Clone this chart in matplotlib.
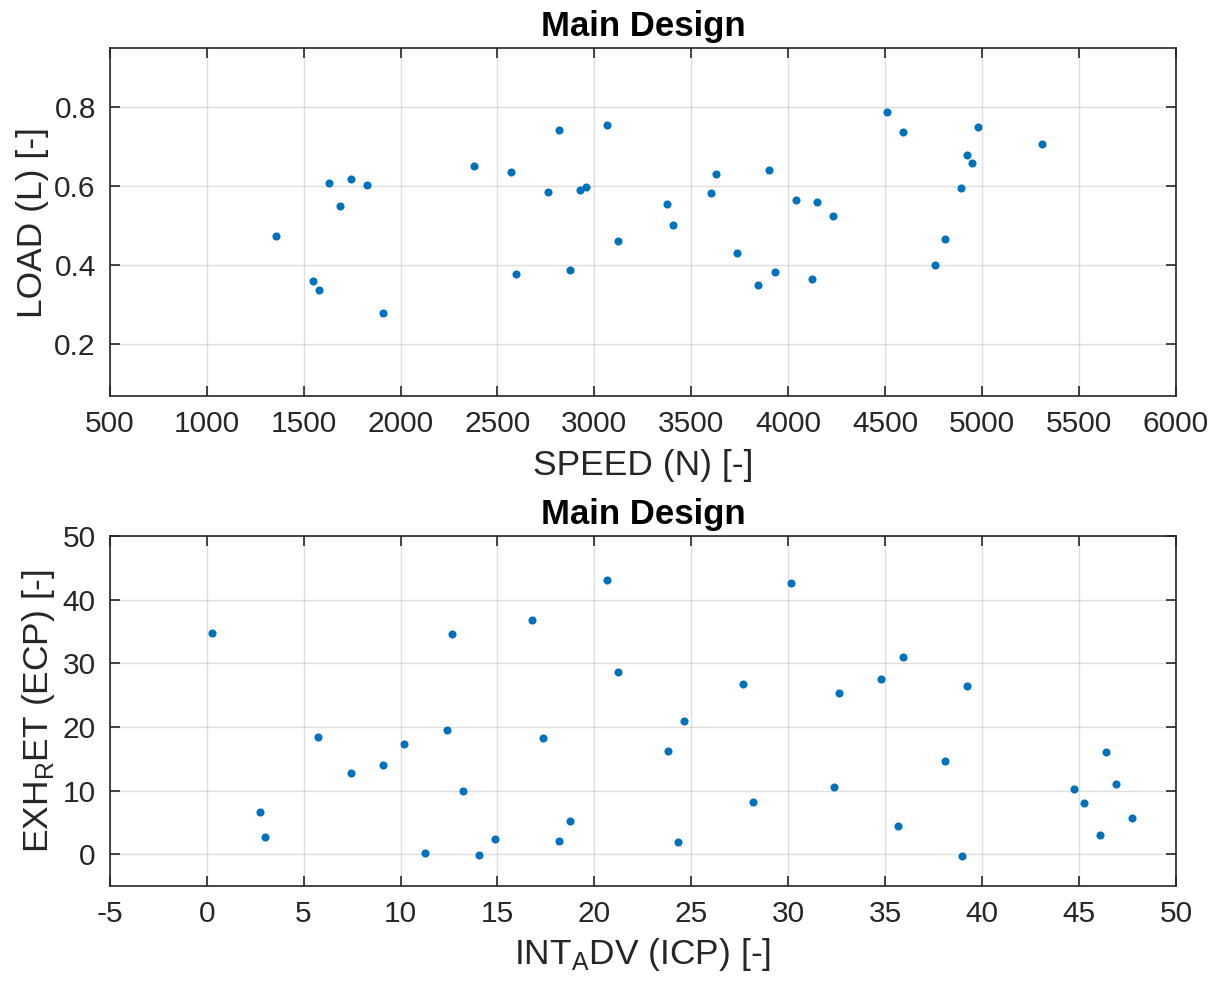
import matplotlib
matplotlib.use('Agg')
import matplotlib.pyplot as plt

plt.rcParams['font.family'] = ['Liberation Sans', 'DejaVu Sans']
plt.rcParams['mathtext.fontset'] = 'custom'
plt.rcParams['mathtext.rm'] = 'Liberation Sans'
plt.rcParams['axes.unicode_minus'] = False

# top panel: speed vs load
speed = [1359, 1550, 1578, 1633, 1690, 1745, 1826, 1908, 2378, 2570,
         2596, 2763, 2818, 2874, 2927, 2956, 3065, 3120, 3377, 3407,
         3599, 3625, 3735, 3846, 3900, 3930, 4038, 4122, 4149, 4233,
         4507, 4590, 4756, 4810, 4892, 4921, 4949, 4977, 5307]
load = [0.475, 0.360, 0.338, 0.609, 0.551, 0.618, 0.604, 0.280, 0.652, 0.635,
        0.378, 0.586, 0.742, 0.387, 0.590, 0.599, 0.755, 0.462, 0.556, 0.502,
        0.582, 0.631, 0.432, 0.351, 0.640, 0.382, 0.564, 0.365, 0.560, 0.524,
        0.787, 0.738, 0.400, 0.466, 0.596, 0.680, 0.658, 0.751, 0.706]

# bottom panel: intake adv vs exhaust ret
int_adv = [0.27, 2.74, 3.03, 5.76, 7.43, 9.07, 10.18, 11.27, 12.39, 12.66,
           13.2, 14.04, 14.87, 16.8, 17.35, 18.17, 18.73, 20.66, 21.2, 23.79,
           24.33, 24.6, 27.64, 28.2, 30.13, 32.34, 32.6, 34.8, 35.64, 35.9,
           38.1, 38.94, 39.2, 44.72, 45.26, 46.1, 46.38, 46.93, 47.75]
exh_ret = [34.8, 6.6, 2.7, 18.5, 12.7, 14.1, 17.4, 0.26, 19.6, 34.6,
           9.95, -0.05, 2.4, 36.8, 18.2, 2.15, 5.2, 43.1, 28.7, 16.3,
           1.9, 21.0, 26.8, 8.2, 42.6, 10.5, 25.4, 27.6, 4.4, 31.0,
           14.7, -0.3, 26.5, 10.2, 8.0, 3.04, 16.0, 11.05, 5.76]

blue = '#0072BD'
dark = '#262626'

fig = plt.figure(figsize=(12.18, 9.84), dpi=100)
ax1 = fig.add_axes([0.0901, 0.5976, 0.8754, 0.3533])
ax2 = fig.add_axes([0.0901, 0.0996, 0.8754, 0.3554])


def style(ax):
    ax.grid(True, color=dark, alpha=0.15, linewidth=1)
    ax.set_axisbelow(True)
    for s in ax.spines.values():
        s.set_color(dark)
        s.set_linewidth(1.2)
    ax.tick_params(direction='in', length=7, width=1.2, color=dark,
                   labelcolor=dark, labelsize=21.5, top=True, right=True, pad=10)


ax1.scatter(speed, load, s=34, color=blue, linewidths=0)
ax1.set_xlim(500, 6000)
ax1.set_ylim(0.069, 0.949)
ax1.set_xticks(range(500, 6001, 500))
ax1.set_yticks([0.2, 0.4, 0.6, 0.8])
ax1.set_yticklabels(['0.2', '0.4', '0.6', '0.8'])
style(ax1)
ax1.set_xlabel('SPEED (N) [-]', fontsize=25.5, color=dark, labelpad=8)
ax1.set_ylabel('LOAD (L) [-]', fontsize=25.5, color=dark, labelpad=4)
ax1.set_title('Main Design', fontsize=25, fontweight='bold', pad=9)

ax2.scatter(int_adv, exh_ret, s=34, color=blue, linewidths=0)
ax2.set_xlim(-5, 50)
ax2.set_ylim(-5, 50)
ax2.set_xticks(range(-5, 51, 5))
ax2.set_yticks(range(0, 51, 10))
style(ax2)
ax2.set_xlabel(r'INT$_\mathregular{A}$DV (ICP) [-]', fontsize=25.5, color=dark, labelpad=6)
ax2.set_ylabel(r'EXH$_\mathregular{R}$ET (ECP) [-]', fontsize=25.5, color=dark, labelpad=4)
ax2.set_title('Main Design', fontsize=25, fontweight='bold', pad=9)

fig.savefig('out.png', dpi=100)
